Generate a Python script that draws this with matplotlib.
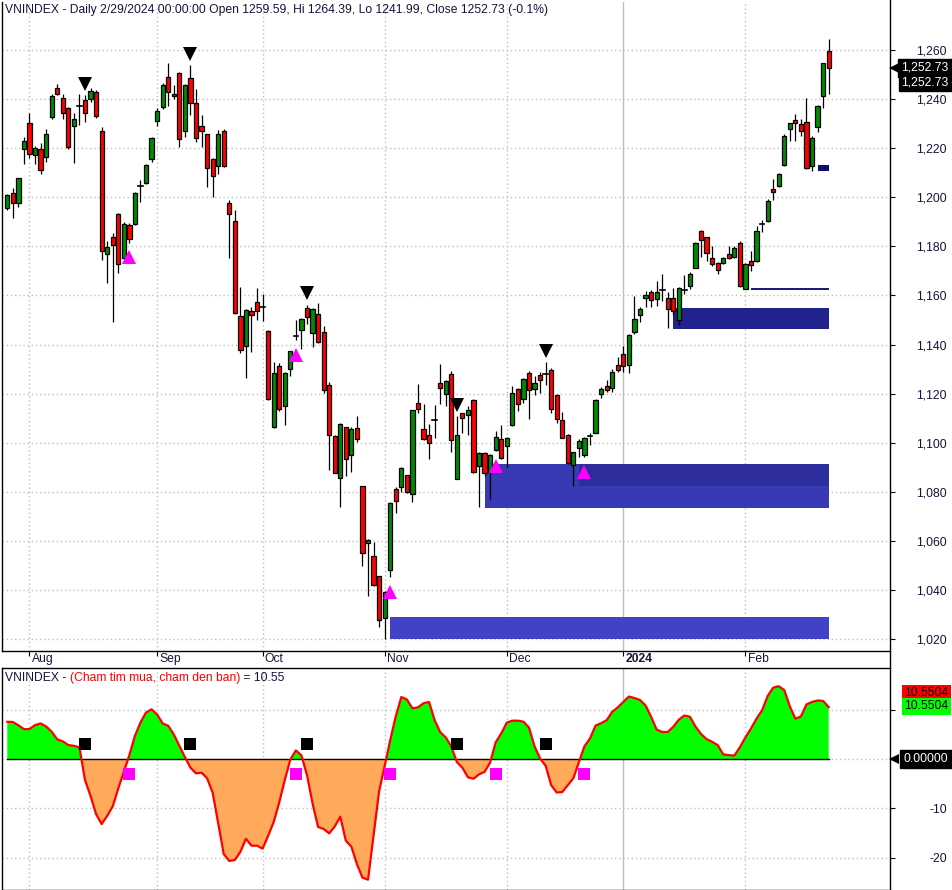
import matplotlib
matplotlib.use("Agg")
import matplotlib.pyplot as plt
import matplotlib.transforms as mtrans
from matplotlib.patches import Rectangle
from matplotlib.lines import Line2D
from matplotlib.ticker import FuncFormatter
import numpy as np

plt.rcParams['font.family'] = ['Liberation Sans', 'DejaVu Sans']

# ---- data ----
opens = [1195.5, 1201.6, 1197.5, 1219.5, 1230.1, 1217.2, 1219.8, 1216.3, 1232.8, 1244.4,
         1240.6, 1236.2, 1229.0, 1237.3, 1239.6, 1239.9, 1242.9, 1227.0, 1177.1, 1183.9,
         1193.2, 1175.1, 1188.9, 1189.3, 1204.8, 1205.9, 1215.8, 1231.2, 1236.9, 1248.9,
         1242.3, 1250.8, 1227.1, 1248.7, 1238.3, 1229.0, 1225.8, 1215.8, 1212.7, 1227.0,
         1197.8, 1190.3, 1151.8, 1139.5, 1153.6, 1157.4, 1155.3, 1145.7, 1106.3, 1131.1,
         1114.9, 1130.1, 1143.5, 1146.0, 1155.0, 1144.8, 1152.5, 1145.2, 1123.6, 1102.8,
         1085.7, 1106.3, 1095.1, 1106.1, 1082.3, 1059.2, 1053.9, 1045.5, 1028.6, 1048.3,
         1081.2, 1082.0, 1086.7, 1078.9, 1116.3, 1105.7, 1103.3, 1109.3, 1124.4, 1119.9,
         1128.1, 1085.4, 1112.1, 1111.1, 1117.5, 1090.5, 1095.6, 1088.1, 1097.2, 1101.6,
         1098.7, 1107.3, 1122.0, 1117.9, 1128.5, 1122.0, 1127.7, 1127.8, 1129.7, 1119.5,
         1109.4, 1103.3, 1091.1, 1098.0, 1095.1, 1102.8, 1104.1, 1119.9, 1123.3, 1122.4,
         1131.5, 1136.2, 1131.7, 1145.0, 1152.1, 1159.0, 1161.6, 1158.4, 1162.1, 1159.0,
         1159.0, 1150.1, 1162.1, 1163.8, 1171.2, 1186.1, 1183.8, 1175.4, 1173.3, 1173.3,
         1177.0, 1175.6, 1181.5, 1162.7, 1173.9, 1174.1, 1189.0, 1190.4, 1203.2, 1204.7,
         1213.1, 1227.7, 1231.7, 1229.7, 1230.5, 1212.9, 1228.8, 1241.4, 1259.59]

highs = [1201.5, 1203.6, 1208.0, 1224.7, 1234.2, 1221.0, 1222.0, 1227.7, 1242.0, 1246.1,
         1242.0, 1236.8, 1234.2, 1242.3, 1241.7, 1244.4, 1243.7, 1228.8, 1182.0, 1185.3,
         1193.5, 1190.0, 1189.5, 1202.0, 1207.0, 1213.5, 1224.7, 1236.2, 1246.4, 1254.6,
         1245.7, 1251.0, 1246.0, 1253.9, 1244.0, 1233.5, 1226.0, 1216.0, 1227.4, 1227.7,
         1198.9, 1195.0, 1163.4, 1154.5, 1155.2, 1163.1, 1160.7, 1146.0, 1133.0, 1132.6,
         1129.0, 1137.5, 1149.8, 1151.0, 1156.3, 1155.0, 1157.0, 1147.4, 1124.9, 1103.0,
         1108.0, 1106.5, 1106.3, 1110.7, 1082.5, 1060.6, 1059.5, 1045.8, 1039.6, 1076.0,
         1081.9, 1090.1, 1087.0, 1113.5, 1124.0, 1115.6, 1107.5, 1115.2, 1132.1, 1125.5,
         1129.4, 1110.7, 1112.3, 1114.8, 1118.0, 1096.0, 1096.0, 1095.3, 1104.6, 1107.1,
         1102.3, 1123.3, 1122.3, 1126.3, 1129.4, 1127.0, 1128.8, 1132.8, 1130.5, 1119.8,
         1112.5, 1103.5, 1096.3, 1101.4, 1102.3, 1104.0, 1117.8, 1122.7, 1125.5, 1130.1,
         1134.9, 1139.2, 1144.2, 1159.6, 1155.5, 1162.0, 1162.3, 1165.7, 1168.6, 1161.6,
         1163.1, 1163.4, 1168.2, 1169.5, 1181.8, 1186.5, 1184.0, 1180.0, 1173.5, 1175.6,
         1180.0, 1180.0, 1182.0, 1173.2, 1178.0, 1188.3, 1190.7, 1199.3, 1207.4, 1210.0,
         1225.6, 1230.4, 1233.9, 1231.9, 1240.3, 1225.0, 1237.6, 1254.9, 1264.39]

lows = [1195.0, 1191.4, 1196.0, 1213.4, 1216.0, 1213.5, 1209.5, 1214.5, 1232.0, 1241.5,
        1231.9, 1219.5, 1213.8, 1229.4, 1230.8, 1239.0, 1232.5, 1174.4, 1164.9, 1149.3,
        1169.2, 1174.5, 1181.5, 1188.8, 1197.9, 1205.5, 1214.2, 1229.2, 1236.0, 1237.2,
        1240.0, 1220.6, 1224.7, 1233.5, 1222.6, 1220.6, 1204.3, 1200.2, 1209.7, 1212.3,
        1175.1, 1152.5, 1136.5, 1126.3, 1136.9, 1149.8, 1149.5, 1117.5, 1106.0, 1112.9,
        1107.4, 1127.0, 1141.7, 1138.3, 1148.5, 1138.9, 1140.6, 1120.2, 1088.9, 1087.5,
        1073.7, 1086.4, 1088.0, 1100.2, 1049.7, 1037.4, 1041.5, 1024.8, 1020.0, 1045.2,
        1071.4, 1080.0, 1079.3, 1075.9, 1112.1, 1101.0, 1093.3, 1102.0, 1115.9, 1115.0,
        1096.2, 1085.0, 1104.0, 1103.3, 1087.8, 1073.6, 1086.5, 1076.9, 1096.5, 1093.5,
        1090.1, 1106.8, 1112.9, 1116.2, 1109.5, 1119.5, 1120.2, 1123.6, 1112.1, 1108.0,
        1101.8, 1091.3, 1082.4, 1094.0, 1094.2, 1099.0, 1104.0, 1118.3, 1120.5, 1120.6,
        1129.0, 1128.7, 1128.3, 1144.1, 1149.1, 1155.5, 1155.5, 1155.9, 1157.7, 1146.8,
        1152.0, 1148.0, 1160.7, 1162.8, 1171.0, 1175.6, 1174.0, 1172.0, 1168.6, 1173.0,
        1175.0, 1175.2, 1163.4, 1162.7, 1170.0, 1173.7, 1186.0, 1190.0, 1198.9, 1204.4,
        1212.7, 1223.0, 1223.0, 1225.0, 1211.5, 1210.7, 1226.7, 1236.5, 1241.99]

closes = [1200.9, 1197.5, 1207.7, 1222.9, 1217.5, 1220.3, 1211.1, 1226.0, 1241.4, 1242.3,
          1234.2, 1220.6, 1232.1, 1237.1, 1234.2, 1243.3, 1233.1, 1178.1, 1179.6, 1180.5,
          1172.8, 1189.3, 1183.2, 1201.6, 1204.6, 1213.1, 1224.3, 1235.1, 1245.7, 1243.0,
          1241.4, 1223.6, 1245.7, 1238.3, 1224.0, 1227.1, 1211.8, 1208.8, 1226.0, 1212.7,
          1193.2, 1152.9, 1137.9, 1153.9, 1152.1, 1153.8, 1155.1, 1117.9, 1128.5, 1113.8,
          1128.5, 1137.2, 1143.3, 1150.5, 1151.2, 1154.6, 1141.0, 1121.5, 1103.2, 1087.7,
          1107.7, 1093.4, 1105.7, 1101.6, 1055.1, 1060.4, 1042.0, 1027.8, 1039.3, 1075.3,
          1076.4, 1089.5, 1080.0, 1113.2, 1113.8, 1101.7, 1100.0, 1109.1, 1122.2, 1125.1,
          1101.0, 1103.3, 1110.2, 1113.4, 1088.1, 1095.6, 1087.8, 1095.1, 1102.3, 1093.9,
          1102.0, 1120.4, 1115.9, 1126.0, 1121.3, 1124.4, 1125.4, 1127.6, 1113.8, 1109.8,
          1102.0, 1091.8, 1096.0, 1100.6, 1102.0, 1102.6, 1117.5, 1122.0, 1121.6, 1128.9,
          1129.7, 1131.2, 1143.9, 1150.5, 1154.6, 1160.0, 1158.2, 1161.6, 1161.9, 1154.6,
          1153.6, 1163.1, 1161.9, 1168.8, 1181.5, 1182.7, 1177.4, 1172.9, 1170.2, 1175.4,
          1175.4, 1179.5, 1163.8, 1172.9, 1172.5, 1186.2, 1188.8, 1198.4, 1202.3, 1209.7,
          1225.0, 1230.1, 1230.1, 1227.1, 1212.0, 1224.0, 1237.3, 1254.6, 1252.73]

# oscillator "Cham tim mua, cham den ban"
osc = [7.57, 7.53, 6.86, 6.08, 6.08, 6.9, 7.23, 6.62, 5.54, 3.99,
       3.6, 2.84, 2.7, 2.36, -4.26, -7.5, -11.2, -13.2, -11.55, -9.6,
       -5.95, -2.57, 0.81, 4.73, 7.43, 9.46, 10.1, 9.05, 7.23, 6.76,
       5.0, 2.7, 0.4, -1.76, -2.9, -2.77, -3.9, -6.8, -13.0, -19.3,
       -20.7, -20.5, -18.85, -16.2, -17.6, -17.6, -18.2, -15.6, -12.8, -8.8,
       -4.26, -0.1, 1.76, 0.74, -3.24, -9.0, -13.8, -14.2, -15.1, -13.7,
       -11.7, -16.6, -17.8, -21.35, -24.1, -24.5, -15.5, -6.5, -1.4, 3.85,
       8.7, 12.6, 12.1, 10.3, 10.5, 11.35, 11.6, 7.9, 5.47, 4.4,
       2.57, -0.6, -1.76, -3.7, -4.0, -3.1, -2.6, -0.7, 3.4, 5.2,
       7.4, 7.8, 7.8, 7.6, 6.4, 2.6, 0.1, -1.35, -5.3, -6.8,
       -6.7, -5.3, -3.9, -0.6, 2.6, 4.2, 6.8, 7.3, 7.9, 9.6,
       10.5, 11.6, 12.7, 12.4, 12.0, 10.9, 8.6, 6.0, 5.5, 5.5,
       6.55, 8.0, 8.85, 8.6, 6.6, 5.1, 4.05, 3.5, 2.84, 0.95,
       0.8, 0.7, 2.4, 4.4, 6.2, 8.2, 9.9, 12.8, 14.5, 14.8,
       14.0, 10.7, 8.2, 8.65, 11.1, 11.6, 11.9, 11.8, 10.5504]

month_idx = [4, 27, 46, 68, 90, 111, 133]
month_lbl = ['Aug', 'Sep', 'Oct', 'Nov', 'Dec', '2024', 'Feb']

sell_idx = [14, 33, 54, 81, 97]   # black marks
buy_idx = [22, 52, 69, 88, 104]   # magenta marks

zone_start = [69, 86, 103, 120, 134, 146]
zone_lo = [1020.0, 1073.3, 1082.2, 1146.4, 1162.2, 1210.6]
zone_hi = [1029.1, 1091.2, 1091.2, 1154.9, 1163.0, 1213.3]
zone_col = ['#4242C6', '#3939B3', '#2D2D9E', '#22228C', '#1C1C7E', '#0E0E6C']

last_date = '2/29/2024 00:00:00'
osc_name = '(Cham tim mua, cham den ban)'

# ---- figure ----
W, H = 953, 890
fig = plt.figure(figsize=(W / 100, H / 100), dpi=100)
ax1 = fig.add_axes([2 / W, (H - 651) / H, 888 / W, 649 / H])
ax2 = fig.add_axes([2 / W, 0, 888 / W, 222 / H])

n = len(closes)
x = np.arange(n)
txt = '#14143C'
grid_kw = dict(color='#BEBEBE', lw=1, ls=(0, (1, 2)))
FS = 8.7

for ax in (ax1, ax2):
    ax.set_xlim(-0.955, 159.05)
    ax.set_axisbelow(True)
    for s in ax.spines.values():
        s.set_linewidth(1)
        s.set_color('black')
    ax.spines['right'].set_visible(False)
    for idx, lbl in zip(month_idx, month_lbl):
        if lbl == '2024':
            ax.axvline(idx, color='#BEBEBE', lw=1, zorder=0)
        else:
            ax.axvline(idx, zorder=0, **grid_kw)
ax1.spines['top'].set_visible(False)

# zones
for s, lo, hi, c in zip(zone_start, zone_lo, zone_hi, zone_col):
    ax1.add_patch(Rectangle((s, lo), n - 1 - s, hi - lo, fc=c, ec='none', zorder=1))

# candles
for i in range(n):
    o, h, l, c = opens[i], highs[i], lows[i], closes[i]
    ax1.plot([i, i], [l, h], color='black', lw=0.9, zorder=2, solid_capstyle='butt')
    if abs(c - o) < 0.3:
        ax1.plot([i - 0.42, i + 0.42], [o, o], color='black', lw=1.2, zorder=3)
    else:
        fc = '#008C00' if c > o else '#FF0000'
        ax1.add_patch(Rectangle((i - 0.38, min(o, c)), 0.76, abs(c - o),
                                fc=fc, ec='black', lw=0.9, zorder=3))

# signals
ax1.plot(sell_idx, [highs[i] + 4.5 for i in sell_idx], 'v', color='black', ms=10, mew=0, zorder=4)
ax1.plot(buy_idx, [lows[i] - 6 for i in buy_idx], '^', color='#FF00FF', ms=10, mew=0, zorder=4)

ax1.set_ylim(1015.1, 1279.6)
ax1.set_yticks(range(1020, 1261, 20))
ax1.yaxis.set_major_formatter(FuncFormatter(lambda v, p: f'{v:,.0f}'))
ax1.yaxis.grid(True, **grid_kw)
ax1.yaxis.tick_right()
ax1.tick_params(axis='y', direction='out', length=3.6, width=0.8, pad=37.5,
                labelsize=FS, labelcolor=txt)
for t in ax1.get_yticklabels():
    t.set_horizontalalignment('right')
ax1.set_xticks(month_idx)
ax1.set_xticklabels([])
ax1.tick_params(axis='x', direction='out', length=3.6, width=0.8)
for idx, lbl in zip(month_idx, month_lbl):
    ax1.annotate(lbl, xy=(idx, 0), xycoords=('data', 'axes fraction'),
                 xytext=(1.5, -1.5), textcoords='offset points', ha='left', va='top',
                 fontsize=FS, color=txt, fontweight='bold' if lbl == '2024' else 'normal')

title = (f'VNINDEX - Daily {last_date} Open {opens[-1]:.2f}, Hi {highs[-1]:.2f}, '
         f'Lo {lows[-1]:.2f}, Close {closes[-1]:.2f} '
         f'({(closes[-1] / closes[-2] - 1) * 100:.1f}%)')
ax1.text(3 / 888, 1 - 2 / 649, title, transform=ax1.transAxes, ha='left', va='top',
         fontsize=FS, color=txt)

# last price boxes
bt1 = mtrans.blended_transform_factory(ax1.transAxes, ax1.transData)
box = dict(boxstyle='square,pad=0.28', fc='black', ec='black')
ax1.annotate(f'{closes[-1]:,.2f}', xy=(1, closes[-1]), xycoords=bt1, xytext=(42.0, 0),
             textcoords='offset points', ha='right', va='center', fontsize=FS,
             color='white', bbox=box)
ax1.annotate(f'{closes[-1]:,.2f}', xy=(1, closes[-1]), xycoords=bt1, xytext=(42.0, -10.5),
             textcoords='offset points', ha='right', va='center', fontsize=FS,
             color='white', bbox=dict(boxstyle='square,pad=0.18', fc='black', ec='black'))
ax1.plot([1.005], [closes[-1]], marker='<', ms=7, color='black', mew=0,
         transform=bt1, clip_on=False)

# ---- oscillator pane ----
osc_a = np.array(osc)
ax2.fill_between(x, osc_a, 0, where=osc_a >= 0, interpolate=True, color='#00FF00', lw=0, zorder=1)
ax2.fill_between(x, osc_a, 0, where=osc_a <= 0, interpolate=True, color='#FFAA5A', lw=0, zorder=1)
ax2.plot(x, np.zeros(n), color='black', lw=1, zorder=2)
ax2.plot(x, osc_a, color='#FF0000', lw=1.6, zorder=3)
ax2.plot(sell_idx, [3.1] * len(sell_idx), 's', color='black', ms=8, mew=0, zorder=4)
ax2.plot(buy_idx, [-3.0] * len(buy_idx), 's', color='#FF00FF', ms=8, mew=0, zorder=4)

ax2.set_ylim(-26.6, 18.5)
ax2.set_yticks([-20, -10, 0, 10])
ax2.set_yticklabels(['-20', '-10', '', ''])
ax2.yaxis.grid(True, **grid_kw)
ax2.yaxis.tick_right()
ax2.tick_params(axis='y', direction='out', length=3.6, width=0.8, pad=37.5,
                labelsize=FS, labelcolor=txt)
for t in ax2.get_yticklabels():
    t.set_horizontalalignment('right')
ax2.set_xticks([])

t1 = ax2.text(3 / 888, 1 - 4 / 222, 'VNINDEX - ', transform=ax2.transAxes,
              ha='left', va='top', fontsize=FS, color=txt)
t2 = ax2.annotate(osc_name, xy=(1, 0), xycoords=t1, ha='left', va='bottom',
                  fontsize=FS, color='#FF0000')
ax2.annotate(f' = {osc[-1]:.2f}', xy=(1, 0), xycoords=t2, ha='left', va='bottom',
             fontsize=FS, color=txt)

bt2 = mtrans.blended_transform_factory(ax2.transAxes, ax2.transData)
ax2.annotate(f'{osc[-1]:.4f}', xy=(1, osc[-1]), xycoords=bt2, xytext=(42.0, 10.2),
             textcoords='offset points', ha='right', va='center', fontsize=FS,
             color='black', bbox=dict(boxstyle='square,pad=0.2', fc='#FF0000', ec='none'))
ax2.annotate(f'{osc[-1]:.4f}', xy=(1, osc[-1]), xycoords=bt2, xytext=(42.0, 0.5),
             textcoords='offset points', ha='right', va='center', fontsize=FS,
             color='black', bbox=dict(boxstyle='square,pad=0.2', fc='#00FF00', ec='none'))
ax2.annotate('0.00000', xy=(1, 0), xycoords=bt2, xytext=(42.0, 0),
             textcoords='offset points', ha='right', va='center', fontsize=FS,
             color='white', bbox=box)
ax2.plot([1.005], [0], marker='<', ms=7, color='black', mew=0,
         transform=bt2, clip_on=False)

# price axis line through both panes
fig.add_artist(Line2D([890.5 / W] * 2, [0, 1], transform=fig.transFigure, color='black', lw=1))

fig.savefig('out.png', dpi=100)
